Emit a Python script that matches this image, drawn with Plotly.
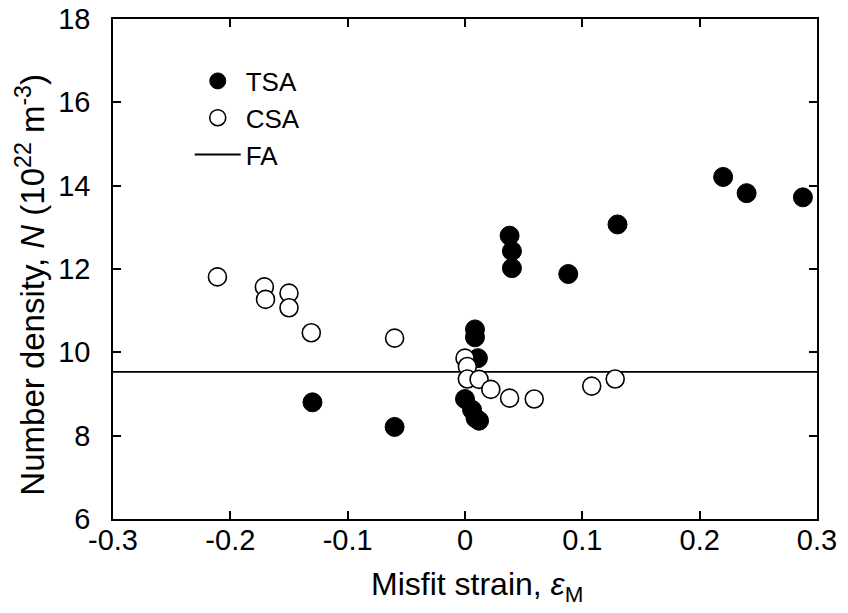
import plotly.graph_objects as go

# TSA (filled circles)
tsa_x = [-0.13, -0.06, 0.0085, 0.0085, 0.011, 0.0, 0.006, 0.009, 0.012,
         0.038, 0.040, 0.040, 0.088, 0.130, 0.220, 0.240, 0.288]
tsa_y = [8.80, 8.21, 10.55, 10.36, 9.86, 8.88, 8.62, 8.42, 8.36,
         12.80, 12.43, 12.02, 11.88, 13.07, 14.21, 13.82, 13.72]

# CSA (open circles)
csa_x = [-0.211, -0.171, -0.170, -0.150, -0.150, -0.131, -0.060,
         0.0, 0.002, 0.002, 0.012, 0.022, 0.038, 0.059, 0.108, 0.128]
csa_y = [11.81, 11.57, 11.27, 11.42, 11.07, 10.47, 10.34,
         9.86, 9.66, 9.36, 9.35, 9.11, 8.90, 8.88, 9.19, 9.36]

# FA (horizontal line)
fa_x = [-0.3, 0.3]
fa_y = [9.53, 9.53]

x_ticks = [-0.3, -0.2, -0.1, 0, 0.1, 0.2, 0.3]
x_tick_text = ["-0.3", "-0.2", "-0.1", "0", "0.1", "0.2", "0.3"]
y_ticks = [6, 8, 10, 12, 14, 16, 18]
y_tick_text = ["6", "8", "10", "12", "14", "16", "18"]

x_title = "Misfit strain, <i>ε</i><sub>M</sub>"
y_title = "Number density, <i>N</i> (10<sup>22</sup> m<sup>-3</sup>)"

FONT = "Liberation Sans, Arial, sans-serif"

fig = go.Figure()
fig.add_trace(go.Scatter(x=fa_x, y=fa_y, mode="lines", name="FA",
                         line=dict(color="black", width=1.8), legendrank=3))
fig.add_trace(go.Scatter(x=tsa_x, y=tsa_y, mode="markers", name="TSA",
                         marker=dict(symbol="circle", size=19, color="black",
                                     line=dict(color="black", width=1)),
                         legendrank=1))
fig.add_trace(go.Scatter(x=csa_x, y=csa_y, mode="markers", name="CSA",
                         marker=dict(symbol="circle", size=18, color="white",
                                     line=dict(color="black", width=1.6)),
                         legendrank=2))

axis_common = dict(showline=True, linecolor="black", linewidth=1.5, mirror="ticks",
                   ticks="inside", ticklen=8, tickwidth=1.5, tickcolor="black",
                   showgrid=False, zeroline=False, automargin=False,
                   tickfont=dict(family=FONT, size=29, color="black"))

fig.update_layout(
    width=848, height=613,
    margin=dict(l=113, r=31, t=19, b=94),
    paper_bgcolor="white", plot_bgcolor="white",
    font=dict(family=FONT, color="black"),
    showlegend=True,
    legend=dict(x=0.109, y=0.923, xanchor="left", yanchor="top",
                bgcolor="rgba(0,0,0,0)", font=dict(family=FONT, size=26, color="black"),
                itemwidth=46, traceorder="normal"),
    xaxis=dict(range=[-0.3, 0.3], tickvals=x_ticks, ticktext=x_tick_text,
               ticklabelstandoff=-6, **axis_common),
    yaxis=dict(range=[6, 18], tickvals=y_ticks, ticktext=y_tick_text,
               ticklabelstandoff=15, **axis_common),
    annotations=[
        dict(text=x_title, xref="paper", yref="paper", x=0.517, y=-0.134,
             xanchor="center", yanchor="middle", showarrow=False,
             font=dict(family=FONT, size=32, color="black")),
        dict(text=y_title, xref="paper", yref="paper", x=-0.117, y=0.468,
             xanchor="center", yanchor="middle", showarrow=False, textangle=-90,
             font=dict(family=FONT, size=33, color="black")),
    ],
)

fig.write_html("out.html", config={"displayModeBar": False},
               post_script="document.body.style.margin='0';document.body.style.overflow='hidden';")
